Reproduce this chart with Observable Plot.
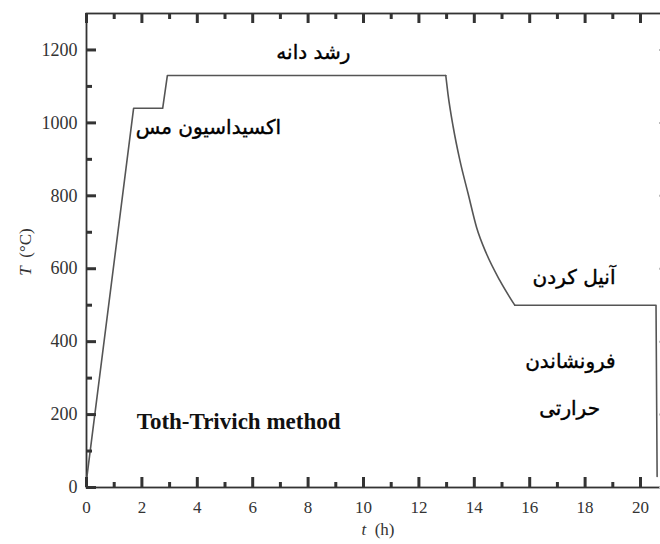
<!DOCTYPE html>
<html>
<head>
<meta charset="utf-8">
<script src="https://cdn.jsdelivr.net/npm/d3@7"></script>
<script src="https://cdn.jsdelivr.net/npm/@observablehq/plot@0.6"></script>
<style>
  html, body { margin: 0; padding: 0; overflow: hidden; background: #fff; }
  #chart svg { display: block; max-width: none; width: 664px; height: 544px; }
</style>
</head>
<body>
<div id="chart"></div>
<script>
// Heating schedule of the Toth-Trivich method: time (h) and furnace temperature (°C)
const time = [0, 1.7, 2.75, 2.92, 12.97, 13.05, 13.24, 13.48, 13.78, 14.08, 14.44, 14.92, 15.46, 20.56, 20.6];
const temperature = [20, 1040, 1040, 1130, 1130, 1079, 988, 897, 805, 714, 641, 568, 500, 500, 30];

// Axis ticks
const xTicks = [0, 2, 4, 6, 8, 10, 12, 14, 16, 18, 20];
const xMinorTicks = [1, 3, 5, 7, 9, 11, 13, 15, 17, 19];
const yTicks = [0, 200, 400, 600, 800, 1000, 1200];
const yMinorTicks = [100, 300, 500, 700, 900, 1100];

// Stage names and method title
const stageGrowth = "رشد دانه";
const stageOxidation = "اکسیداسیون مس";
const stageAnneal = "آنیل کردن";
const stageQuench1 = "فرونشاندن";
const stageQuench2 = "حرارتی";
const methodTitle = "Toth-Trivich method";

const schedule = time.map((t, i) => ({t, T: temperature[i]}));
// the cooling stretch is drawn smooth, the ramps and holds straight
const coolStart = 12.97, coolEnd = 15.46;
const heating = schedule.filter(d => d.t <= coolStart);
const cooling = schedule.filter(d => d.t >= coolStart && d.t <= coolEnd);
const holding = schedule.filter(d => d.t >= coolEnd);

const W = 664, H = 544;
const mL = 86, mR = 1, mT = 13, mB = 57;
const plotW = W - mL - mR, plotH = H - mT - mB;
const axisColor = "#333";
const serif = "Liberation Serif, Times New Roman, serif";
const persian = "DejaVu Sans, sans-serif";

const note = (label, t, T) =>
  Plot.text([label], {x: t, y: T, text: d => d, fontFamily: persian, fontSize: 20, fill: "#000", stroke: "#000", strokeWidth: 0.4, textAnchor: "middle"});

const lineStyle = {x: "t", y: "T", stroke: "#555", strokeWidth: 1.6};
const tickStyle = {stroke: axisColor, strokeWidth: 3};

const chart = Plot.plot({
  width: W,
  height: H,
  marginLeft: mL,
  marginRight: mR,
  marginTop: mT,
  marginBottom: mB,
  style: {fontFamily: serif, fontSize: "17px", background: "#fff"},
  x: {domain: [0, 20.83]},
  y: {domain: [0, 1300]},
  marks: [
    Plot.frame({stroke: axisColor, strokeWidth: 1.8}),
    Plot.axisX({ticks: xTicks, tickSize: 0, tickPadding: 13, tickFormat: d => String(d), label: null, fill: axisColor, fontSize: 17}),
    Plot.axisY({ticks: yTicks, tickSize: 0, tickPadding: 9, tickFormat: d => String(d), label: null, fill: axisColor, fontSize: 18}),
    // temperature profile
    Plot.line(heating, {...lineStyle, curve: "linear"}),
    Plot.line(cooling, {...lineStyle, curve: "monotone-x"}),
    Plot.line(holding, {...lineStyle, curve: "linear"}),
    // inward ticks on all four sides
    Plot.tickX(xTicks, {x: d => d, insetTop: plotH - 10, ...tickStyle}),
    Plot.tickX(xMinorTicks, {x: d => d, insetTop: plotH - 5, ...tickStyle}),
    Plot.tickX(xTicks, {x: d => d, insetBottom: plotH - 10, ...tickStyle}),
    Plot.tickX(xMinorTicks, {x: d => d, insetBottom: plotH - 6, ...tickStyle}),
    Plot.tickY(yTicks, {y: d => d, insetRight: plotW - 10, ...tickStyle}),
    Plot.tickY(yMinorTicks, {y: d => d, insetRight: plotW - 6, ...tickStyle}),
    Plot.tickY(yTicks, {y: d => d, insetLeft: plotW - 4, stroke: "#bbb", strokeWidth: 2}),
    note(stageGrowth, 8.19, 1193),
    note(stageOxidation, 4.4, 987),
    note(stageAnneal, 17.6, 576),
    note(stageQuench1, 17.47, 346),
    note(stageQuench2, 17.44, 217),
    Plot.text([methodTitle], {x: 5.49, y: 182, text: d => d, fontFamily: serif, fontWeight: "bold", fontSize: 23, fill: "#111", textAnchor: "middle"})
  ]
});

document.getElementById("chart").appendChild(chart);

// Axis titles with italic variable names
const svg = d3.select(chart);
const xt = svg.append("text")
  .attr("x", 378).attr("y", 535)
  .attr("text-anchor", "middle")
  .attr("font-family", serif).attr("font-size", 17).attr("fill", axisColor);
xt.append("tspan").attr("font-style", "italic").text("t");
xt.append("tspan").text("\u2002(h)");

const yt = svg.append("text")
  .attr("transform", "translate(31,252) rotate(-90)")
  .attr("text-anchor", "middle")
  .attr("font-family", serif).attr("font-size", 17).attr("fill", axisColor);
yt.append("tspan").attr("font-style", "italic").text("T");
yt.append("tspan").text("\u2002(°C)");
</script>
</body>
</html>
